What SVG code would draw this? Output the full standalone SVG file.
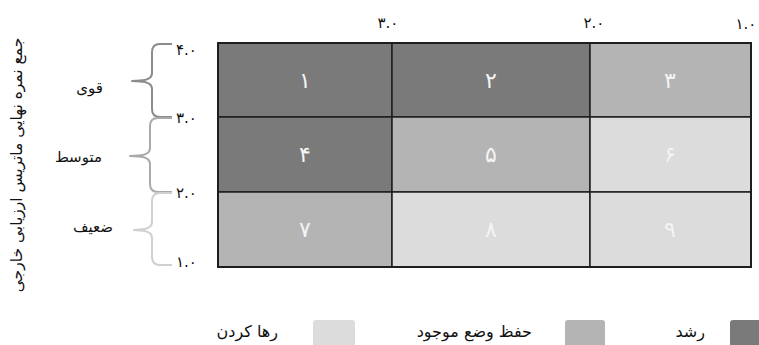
<svg xmlns="http://www.w3.org/2000/svg" width="759" height="345" viewBox="0 0 759 345">
<style>
  text { font-family: "DejaVu Sans", sans-serif; }
  .dark { fill: #7a7a7a; }
  .mid { fill: #b4b4b4; }
  .light { fill: #dcdcdc; }
  .cell { stroke: #1e1e1e; stroke-width: 1.5; }
  .num { font-size: 22px; font-weight: 300; text-anchor: middle; fill: #f4f4f4; }
  .axis { font-size: 15px; fill: #111; }
  .lab { font-size: 15px; fill: #111; text-anchor: end; }
  .leg { font-size: 16px; fill: #111; text-anchor: end; }
  .brace { fill: none; stroke-width: 2; stroke-linejoin: round; }
</style>
<rect width="759" height="345" fill="#ffffff"/>

<g id="cell-1"><rect class="cell dark" x="218" y="43" width="174" height="74"/><text class="num" x="305" y="88">۱</text></g>
<g id="cell-2"><rect class="cell dark" x="392" y="43" width="198" height="74"/><text class="num" x="491" y="88">۲</text></g>
<g id="cell-3"><rect class="cell mid" x="590" y="43" width="161" height="74"/><text class="num" x="670" y="88">۳</text></g>
<g id="cell-4"><rect class="cell dark" x="218" y="117" width="174" height="75"/><text class="num" x="305" y="162">۴</text></g>
<g id="cell-5"><rect class="cell mid" x="392" y="117" width="198" height="75"/><text class="num" x="491" y="162">۵</text></g>
<g id="cell-6"><rect class="cell light" x="590" y="117" width="161" height="75"/><text class="num" x="670" y="162">۶</text></g>
<g id="cell-7"><rect class="cell mid" x="218" y="192" width="174" height="75"/><text class="num" x="305" y="237">۷</text></g>
<g id="cell-8"><rect class="cell light" x="392" y="192" width="198" height="75"/><text class="num" x="491" y="237">۸</text></g>
<g id="cell-9"><rect class="cell light" x="590" y="192" width="161" height="75"/><text class="num" x="670" y="237">۹</text></g>
<rect x="218" y="43" width="533" height="224" fill="none" stroke="#1e1e1e" stroke-width="2"/>

<g id="top-axis" class="axis" text-anchor="middle">
  <text x="388" y="28">۳.۰</text>
  <text x="594" y="28">۲.۰</text>
  <text x="746" y="29">۱.۰</text>
</g>

<g id="left-axis" class="axis" text-anchor="start">
  <text x="176" y="55">۴.۰</text>
  <text x="176" y="123">۳.۰</text>
  <text x="176" y="198">۲.۰</text>
  <text x="176" y="267">۱.۰</text>
</g>

<g id="connectors">
  <path class="brace" stroke="#8c8c8c" d="M172,44 L160,44 Q152,44 152,52 L152,73 Q152,80 140,80.5 L132,81 L140,81.5 Q152,82 152,89 L152,109 Q152,117 160,117 L172,117"/>
  <path class="brace" stroke="#aaaaaa" d="M172,118 L158,118 Q150,118 150,126 L150,148 Q150,155 138,155.5 L130,156 L138,156.5 Q150,157 150,164 L150,184 Q150,192 158,192 L172,192"/>
  <path class="brace" stroke="#d0d0d0" d="M172,193 L160,193 Q152,193 152,201 L152,222 Q152,229 140,229.5 L134,230 L140,230.5 Q152,231 152,238 L152,257 Q152,265 160,265 L172,265"/>
</g>

<g id="row-labels">
  <text class="lab" x="103" y="93">قوی</text>
  <text class="lab" x="102" y="162">متوسط</text>
  <text class="lab" x="113" y="232">ضعیف</text>
</g>

<g id="y-title">
  <text x="0" y="0" font-size="15.5" fill="#111" text-anchor="middle" transform="translate(22,165) rotate(-90)">جمع نمره نهایی ماتریس ارزیابی خارجی</text>
</g>

<g id="legend">
  <rect class="light" x="313" y="320" width="42" height="32" rx="3"/>
  <text class="leg" x="278" y="337">رها کردن</text>
  <rect class="mid" x="565" y="320" width="40" height="32" rx="3"/>
  <text class="leg" x="532" y="337">حفظ وضع موجود</text>
  <rect class="dark" x="730" y="320" width="40" height="32" rx="3"/>
  <text class="leg" x="705" y="337">رشد</text>
</g>
</svg>
